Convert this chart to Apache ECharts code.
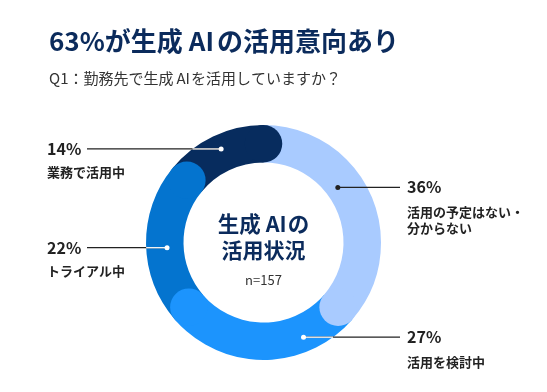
<!DOCTYPE html>
<html><head><meta charset="utf-8">
<script src="https://cdn.jsdelivr.net/npm/echarts@6/dist/echarts.min.js"></script>
<style>html,body{margin:0;padding:0;background:#fff}#c{width:547px;height:392px}</style>
</head><body><div id="c"></div>
<script>
// ---- data ----
const categories = ['活用の予定はない・分からない', '活用を検討中', 'トライアル中', '業務で活用中'];
const values = [36, 27, 22, 14];
const pctLabels = ['36%', '27%', '22%', '14%'];
const nameLines = [['活用の予定はない・', '分からない'], ['活用を検討中'], ['トライアル中'], ['業務で活用中']];
const labelSide = ['right', 'right', 'left', 'left'];
const dotAngles = [14.7, 43.2, 73.4, 92.3];   // position of label anchor along the ring (value scale)
const dotRadii = [92.5, 102.8, 96.6, 102.7];
const titleText = '63%が生成{ai|AI}の活用意向あり';
const subtitleText = 'Q1：勤務先で生成{ai|AI}を活用していますか？';
const centerLines = ['生成{ai|AI}の', '活用状況'];
const sampleNote = 'n=157';

// ---- style ----
const colors = ['#A9CBFF', '#1C94FD', '#0474CF', '#072C5E'];
const dotColors = ['#222222', '#ffffff', '#ffffff', '#ffffff'];
const CX = 263.5, CY = 242.5, R_IN = 80, R_OUT = 117.5;
const FAMILY = '"Noto Sans CJK JP", "Noto Sans", sans-serif';
const NAVY = '#0B2B5C';

const total = values.reduce((a, b) => a + b, 0);
const ends = []; let acc = 0; values.forEach(v => { acc += v; ends.push(acc); });

const chart = echarts.init(document.getElementById('c'), null, { renderer: 'canvas' });

const series = [];
values.forEach((v, i) => {
  series.push({
    type: 'bar', coordinateSystem: 'polar', polarIndex: 0, stack: 'ring', name: categories[i],
    data: [v], barWidth: '100%', itemStyle: { color: colors[i], opacity: 1 }, silent: true, z: 2, animation: false
  });
});
values.forEach((v, i) => {
  series.push({
    type: 'scatter', coordinateSystem: 'polar', polarIndex: 0, name: categories[i] + '-cap',
    data: [[0, ends[i]]], symbol: 'circle', symbolSize: R_OUT - R_IN,
    itemStyle: { color: colors[i], opacity: 1 }, silent: true, z: 3, animation: false
  });
});
values.forEach((v, i) => {
  series.push({
    type: 'scatter', coordinateSystem: 'polar', polarIndex: 1, id: 'dot' + i,
    data: [[dotRadii[i], dotAngles[i]]], symbol: 'circle', symbolSize: 5,
    itemStyle: { color: dotColors[i], opacity: 1 }, silent: true, z: 10, animation: false
  });
});

const hidden = { axisLine: { show: false }, axisTick: { show: false }, axisLabel: { show: false }, splitLine: { show: false } };

chart.setOption({
  animation: false,
  backgroundColor: '#fff',
  title: {
    text: titleText, subtext: subtitleText, left: 44, top: 23, itemGap: 17,
    textStyle: { fontFamily: FAMILY, fontSize: 26, fontWeight: 'bold', color: NAVY,
      rich: { ai: { fontFamily: FAMILY, fontSize: 26, fontWeight: 'bold', color: NAVY, padding: [0, 3, 0, 6] } } },
    subtextStyle: { fontFamily: FAMILY, fontSize: 15, color: '#333333',
      rich: { ai: { fontFamily: FAMILY, fontSize: 15, color: '#333333', padding: [0, 1, 0, 3] } } }
  },
  polar: [
    { center: [CX, CY], radius: [R_IN, R_OUT] },
    { center: [CX, CY], radius: [0, R_OUT] }
  ],
  angleAxis: [
    Object.assign({ type: 'value', polarIndex: 0, min: 0, max: total, startAngle: 90, clockwise: true }, hidden),
    Object.assign({ type: 'value', polarIndex: 1, min: 0, max: total, startAngle: 90, clockwise: true }, hidden)
  ],
  radiusAxis: [
    Object.assign({ type: 'category', polarIndex: 0, data: ['ring'] }, hidden),
    Object.assign({ type: 'value', polarIndex: 1, min: 0, max: R_OUT }, hidden)
  ],
  series: series
});

// ---- annotations: leader lines and labels anchored to the dots ----
const graphics = [];
values.forEach((v, i) => {
  const p = chart.convertToPixel({ seriesId: 'dot' + i }, [dotRadii[i], dotAngles[i]]);
  const x = p[0], y = p[1];
  const left = labelSide[i] === 'left';
  const lineEnd = left ? 87 : 400;
  const edge = CX + (left ? -1 : 1) * Math.sqrt(R_OUT * R_OUT - (y - CY) * (y - CY));
  graphics.push({
    type: 'line', z: 5, silent: true,
    shape: { x1: lineEnd, y1: y, x2: x, y2: y },
    style: { stroke: '#222222', lineWidth: 1.3 }
  });
  if (dotColors[i] === '#ffffff') {
    graphics.push({
      type: 'line', z: 6, silent: true,
      shape: { x1: edge, y1: y, x2: x, y2: y },
      style: { stroke: '#ffffff', lineWidth: 1.3 }
    });
  }
  const tx = left ? 47 : 407;
  graphics.push({
    type: 'text', z: 7, silent: true,
    style: { text: pctLabels[i], x: tx, y: y, align: 'left', verticalAlign: 'middle',
      font: 'bold 16px ' + FAMILY, fill: '#222222' }
  });
  nameLines[i].forEach((t, k) => {
    graphics.push({
      type: 'text', z: 7, silent: true,
      style: { text: t, x: tx, y: y + (left ? 23 : 25) + k * 16, align: 'left', verticalAlign: 'middle',
        font: 'bold 13px ' + FAMILY, fill: '#222222' }
    });
  });
});
const centerRich = { ai: { fontFamily: FAMILY, fontSize: 21.5, fontWeight: 'bold', fill: NAVY, padding: [0, 1, 0, 5] } };
graphics.push({
  type: 'text', z: 7, silent: true,
  style: { text: centerLines[0], x: CX, y: CY - 19, align: 'center', verticalAlign: 'middle',
    fontFamily: FAMILY, fontSize: 21.5, fontWeight: 'bold', fill: NAVY, rich: centerRich }
});
graphics.push({
  type: 'text', z: 7, silent: true,
  style: { text: centerLines[1], x: CX, y: CY + 8, align: 'center', verticalAlign: 'middle',
    fontFamily: FAMILY, fontSize: 21, fontWeight: 'bold', fill: NAVY }
});
graphics.push({
  type: 'text', z: 7, silent: true,
  style: { text: sampleNote, x: CX, y: CY + 38, align: 'center', verticalAlign: 'middle',
    font: '13px ' + FAMILY, fill: '#333333' }
});
chart.setOption({ graphic: graphics });
</script>
</body></html>
